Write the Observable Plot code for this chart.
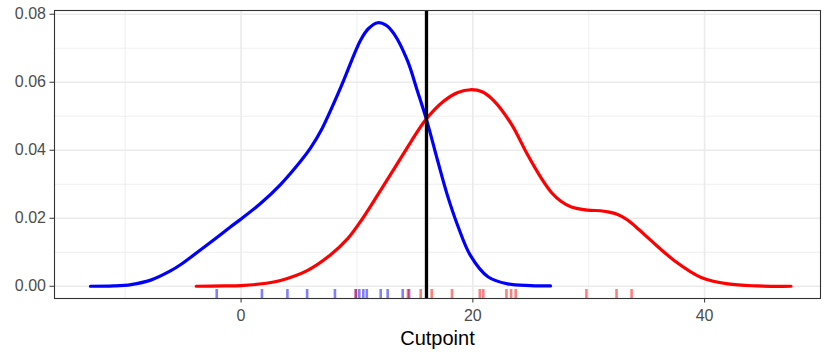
<!DOCTYPE html>
<html>
<head>
<meta charset="utf-8">
<script src="https://cdn.jsdelivr.net/npm/d3@7"></script>
<script src="https://cdn.jsdelivr.net/npm/@observablehq/plot@0.6"></script>
<style>
  html, body { margin: 0; padding: 0; background: #fff; }
  svg { font-family: "Liberation Sans", Arial, sans-serif; }
</style>
</head>
<body>
<div id="chart"></div>
<script>
// Density curve of the blue group: [Cutpoint, density]
const blueX = [-13.0, -11.0, -9.5, -7.8, -6.1, -5.2, -4.4, -2.6, -0.9, 0, 1.7, 3.4, 5.1, 6.0, 6.9, 8.6, 10.3, 11.0, 11.8, 12.5, 13.2, 14.35, 15.2, 16.0, 16.94, 17.8, 18.7, 19.8, 21.3, 23.0, 25.0, 26.7];
const blueY = [0, 0.0001, 0.0005, 0.0018, 0.0045, 0.0064, 0.0084, 0.0130, 0.0175, 0.0198, 0.0244, 0.0299, 0.0366, 0.0407, 0.0458, 0.0585, 0.0723, 0.0758, 0.0775, 0.0768, 0.0742, 0.0664, 0.0576, 0.0490, 0.0372, 0.0268, 0.0178, 0.0090, 0.0028, 0.0007, 0.0002, 0.0001];

// Density curve of the red group
const redX = [-3.87, -1.5, 0, 2.0, 3.4, 5.7, 7.7, 9.2, 10.3, 12.05, 13.2, 14.06, 14.64, 15.93, 17.5, 18.7, 19.8, 20.8, 21.8, 23.3, 24.7, 25.9, 26.8, 27.6, 28.5, 29.9, 31.0, 31.6, 32.5, 33.35, 34.35, 35.36, 37.37, 39.7, 42.0, 44.5, 47.45];
const redY = [0, 0.0001, 0.0002, 0.0008, 0.0017, 0.0046, 0.0092, 0.0140, 0.0190, 0.0283, 0.0345, 0.0392, 0.0424, 0.0490, 0.0545, 0.0570, 0.0578, 0.0572, 0.0546, 0.0478, 0.0388, 0.0318, 0.0275, 0.0250, 0.0233, 0.0224, 0.0222, 0.0219, 0.0211, 0.0195, 0.0166, 0.0135, 0.0076, 0.0026, 0.0007, 0.0001, 0];

// Rug observations
const blueRug = [-2.1, 1.8, 4.0, 5.7, 8.1, 9.9, 10.2, 10.55, 10.85, 12.05, 12.65, 13.95, 14.5];
const redRug = [9.9, 14.4, 15.5, 16.45, 18.2, 20.6, 20.9, 22.9, 23.3, 23.7, 29.8, 32.4, 33.7];

// Cutpoint
const cutpoint = [16];

// Axis ticks
const xTicks = [0, 20, 40];
const xMinor = [-10, 10, 30];
const yTicks = [0, 0.02, 0.04, 0.06, 0.08];
const yMinor = [0.01, 0.03, 0.05, 0.07];
const xTitle = "Cutpoint";

const blue = blueX.map((x, i) => ({x, y: blueY[i]}));
const red = redX.map((x, i) => ({x, y: redY[i]}));

const chart = Plot.plot({
  width: 822,
  height: 352,
  marginLeft: 54,
  marginRight: 2,
  marginTop: 10,
  marginBottom: 54,
  style: {fontFamily: "'Liberation Sans', Arial, sans-serif", background: "#fff"},
  x: {domain: [-16.1, 50.0]},
  y: {domain: [-0.0036, 0.0811]},
  marks: [
    Plot.gridX(xMinor, {stroke: "#EBEBEB", strokeOpacity: 1, strokeWidth: 0.8}),
    Plot.gridY(yMinor, {stroke: "#EBEBEB", strokeOpacity: 1, strokeWidth: 0.8}),
    Plot.gridX(xTicks, {stroke: "#EBEBEB", strokeOpacity: 1, strokeWidth: 1.6}),
    Plot.gridY(yTicks, {stroke: "#EBEBEB", strokeOpacity: 1, strokeWidth: 1.6}),
    Plot.ruleX(blueRug, {stroke: "#0000FF", strokeOpacity: 0.5, strokeWidth: 2.6, insetTop: 279}),
    Plot.ruleX(redRug, {stroke: "#FF0000", strokeOpacity: 0.5, strokeWidth: 2.6, insetTop: 279}),
    Plot.line(blue, {x: "x", y: "y", stroke: "#0000FF", strokeWidth: 3.2, curve: "catmull-rom"}),
    Plot.line(red, {x: "x", y: "y", stroke: "#FF0000", strokeWidth: 3.2, curve: "catmull-rom"}),
    Plot.ruleX(cutpoint, {stroke: "#000", strokeWidth: 3.3}),
    Plot.frame({stroke: "#333333", strokeWidth: 1.1}),
    Plot.axisX(xTicks, {tickSize: 4.5, tickPadding: 7, fontSize: 16, stroke: "#333333", fill: "#4D4D4D", label: null, tickFormat: d => String(d)}),
    Plot.axisY(yTicks, {tickSize: 4.5, tickPadding: 4, fontSize: 16, stroke: "#333333", fill: "#4D4D4D", label: null, tickFormat: d3.format(".2f")}),
    Plot.text([xTitle], {text: d => d, frameAnchor: "bottom", dy: 46, fontSize: 20, fill: "#000"})
  ]
});
document.getElementById("chart").appendChild(chart);
</script>
</body>
</html>
